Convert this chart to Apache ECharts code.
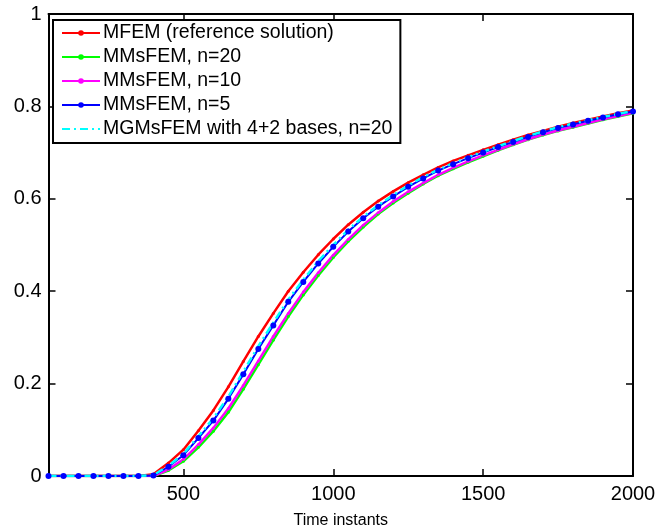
<!DOCTYPE html>
<html>
<head>
<meta charset="utf-8">
<script src="https://cdn.jsdelivr.net/npm/echarts@6/dist/echarts.min.js"></script>
<style>html,body{margin:0;padding:0;background:#fff}#c{width:663px;height:529px}</style>
</head>
<body>
<div id="c"></div>
<script>
const timeInstants = [50,100,150,200,250,300,350,400,450,500,550,600,650,700,750,800,850,900,950,1000,1050,1100,1150,1200,1250,1300,1350,1400,1450,1500,1550,1600,1650,1700,1750,1800,1850,1900,1950,2000];
const mfem = [0,0,0,0,0,0,0,0.004,0.028,0.057,0.098,0.142,0.193,0.248,0.302,0.352,0.400,0.441,0.479,0.513,0.544,0.571,0.595,0.616,0.635,0.652,0.668,0.682,0.694,0.706,0.717,0.728,0.738,0.747,0.756,0.764,0.771,0.778,0.785,0.791];
const mmsfem20 = [0,0,0,0,0,0,0,0,0.012,0.032,0.062,0.097,0.138,0.188,0.241,0.294,0.345,0.392,0.434,0.473,0.508,0.539,0.567,0.591,0.612,0.632,0.650,0.665,0.679,0.692,0.705,0.717,0.728,0.738,0.747,0.755,0.763,0.771,0.778,0.785];
const mmsfem10 = [0,0,0,0,0,0,0,0,0.014,0.036,0.068,0.104,0.146,0.196,0.249,0.302,0.352,0.398,0.440,0.478,0.512,0.543,0.570,0.594,0.615,0.634,0.652,0.667,0.681,0.694,0.706,0.718,0.729,0.739,0.748,0.756,0.764,0.772,0.779,0.786];
const mmsfem5 = [0,0,0,0,0,0,0,0.001,0.020,0.045,0.082,0.120,0.167,0.220,0.275,0.326,0.377,0.420,0.460,0.496,0.529,0.558,0.583,0.605,0.626,0.644,0.661,0.675,0.688,0.700,0.712,0.723,0.734,0.744,0.753,0.761,0.769,0.776,0.783,0.789];
const mgmsfem = [0,0,0,0,0,0,0,0.002,0.022,0.048,0.086,0.125,0.172,0.226,0.281,0.332,0.382,0.425,0.465,0.500,0.533,0.561,0.586,0.608,0.629,0.647,0.663,0.677,0.690,0.702,0.714,0.725,0.736,0.746,0.755,0.763,0.770,0.777,0.784,0.790];
const xTicks = [500,1000,1500,2000];
const yTicks = [0,0.2,0.4,0.6,0.8,1];
const names = ['MFEM (reference solution)','MMsFEM, n=20','MMsFEM, n=10','MMsFEM, n=5','MGMsFEM with 4+2 bases, n=20'];

const font = 'Liberation Sans, Arial, Helvetica, sans-serif';
const pair = arr => timeInstants.map((t,i)=>[t,arr[i]]);
const axisLine = {show:true, onZero:false, lineStyle:{color:'#000', width:2}};
const tick = {show:true, inside:true, length:7, lineStyle:{color:'#000', width:1.5}};
const plain = v => String(Math.round(v*1000)/1000);

const chart = echarts.init(document.getElementById('c'), null, {renderer:'canvas'});
chart.setOption({
  animation:false,
  backgroundColor:'#fff',
  grid:{left:48.5, right:30, top:14, bottom:53, containLabel:false, outerBoundsMode:'none'},
  legend:{
    orient:'vertical', left:53, top:20,
    backgroundColor:'#fff', borderColor:'#000', borderWidth:2, borderRadius:0,
    padding:[3,8,4,8], itemGap:4, itemWidth:38, itemHeight:7,
    textStyle:{fontFamily:font, fontSize:19.5, lineHeight:20, color:'#000', padding:[0,0,0,-2]},
    data:[names[0], names[1], names[2], names[3], {name:names[4], itemStyle:{opacity:0}}]
  },
  xAxis:[
    {type:'value', min:50, max:2000, position:'bottom',
     name:'Time instants', nameLocation:'middle', nameGap:37,
     nameTextStyle:{fontFamily:font, fontSize:16, color:'#000'},
     axisLine, splitLine:{show:false},
     axisTick:Object.assign({customValues:xTicks}, tick),
     axisLabel:{customValues:xTicks, formatter:plain, fontFamily:font, fontSize:20, color:'#000', margin:8}},
    {type:'value', min:50, max:2000, position:'top',
     axisLine, splitLine:{show:false},
     axisTick:Object.assign({customValues:xTicks}, tick),
     axisLabel:{show:false, customValues:xTicks}}
  ],
  yAxis:[
    {type:'value', min:0, max:1, interval:0.2, position:'left',
     axisLine, splitLine:{show:false},
     axisTick:Object.assign({customValues:yTicks}, tick),
     axisLabel:{customValues:yTicks, formatter:plain, fontFamily:font, fontSize:20, color:'#000', margin:7}},
    {type:'value', min:0, max:1, interval:0.2, position:'right',
     axisLine, splitLine:{show:false},
     axisTick:Object.assign({customValues:yTicks}, tick),
     axisLabel:{show:false}}
  ],
  series:[
    {name:names[0], type:'line', data:pair(mfem), color:'#ff0000',
     lineStyle:{width:2.5, color:'#ff0000'}, symbol:'circle', symbolSize:3, showAllSymbol:true,
     itemStyle:{color:'#ff0000'}},
    {name:names[1], type:'line', data:pair(mmsfem20), color:'#00ff00',
     lineStyle:{width:2.5, color:'#00ff00'}, symbol:'circle', symbolSize:3, showAllSymbol:true,
     itemStyle:{color:'#00ff00'}},
    {name:names[2], type:'line', data:pair(mmsfem10), color:'#ff00ff',
     lineStyle:{width:2.5, color:'#ff00ff'}, symbol:'circle', symbolSize:3, showAllSymbol:true,
     itemStyle:{color:'#ff00ff'}},
    {name:names[3], type:'line', data:pair(mmsfem5), color:'#0000ff',
     lineStyle:{width:2, color:'#0000ff'}, symbol:'circle', symbolSize:6, showAllSymbol:true,
     itemStyle:{color:'#0000ff'}},
    {name:names[4], type:'line', data:pair(mgmsfem), color:'#00ffff',
     lineStyle:{width:2.5, color:'#00ffff', type:[8,4,2,4]}, symbol:'none',
     itemStyle:{color:'#00ffff'}}
  ]
});
</script>
</body>
</html>
